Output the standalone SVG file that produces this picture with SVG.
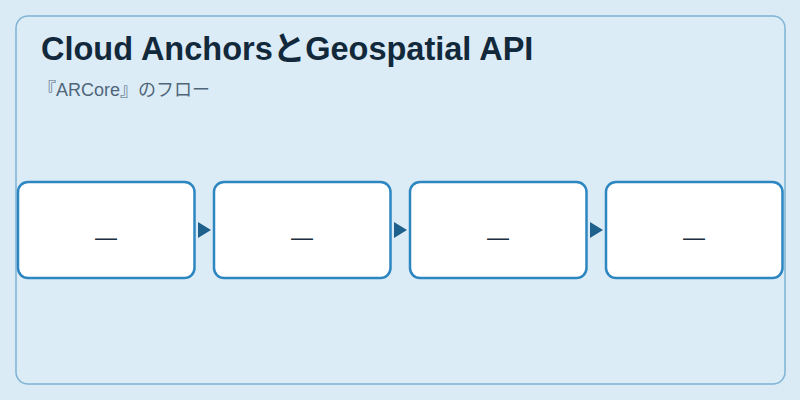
<svg xmlns="http://www.w3.org/2000/svg" width="800" height="400" viewBox="0 0 800 400">
  <style>
    .node rect { fill: #ffffff; stroke: #2e86c1; stroke-width: 2.5; }
    .node text { font-family: "Liberation Sans", "Noto Sans CJK JP", sans-serif; font-size: 22px; fill: #1b2f3e; text-anchor: middle; }
    .title { font-family: "Liberation Sans", "Noto Sans CJK JP", sans-serif; font-size: 32.5px; font-weight: bold; fill: #12293b; }
    .sub { font-family: "Liberation Sans", "Noto Sans CJK JP", sans-serif; font-size: 18px; fill: #4f667a; }
  </style>
  <defs>
    <marker id="arrow" markerUnits="userSpaceOnUse" markerWidth="13" markerHeight="16" refX="13" refY="8" orient="auto">
      <path d="M0,0 L13,8 L0,16 Z" fill="#1f618d"/>
    </marker>
  </defs>
  <rect x="0" y="0" width="800" height="400" fill="#dbebf6"/>
  <rect x="16" y="16" width="769" height="368" rx="12" fill="#dcecf7" stroke="#7fb3d5" stroke-width="1.5"/>
  <text class="title" x="41" y="60">Cloud AnchorsとGeospatial API</text>
  <text class="sub" x="38" y="96">『ARCore』のフロー</text>
  <g id="connectors">
    <path d="M198,230 L211,230" fill="none" stroke="none" marker-end="url(#arrow)"/>
    <path d="M394,230 L407,230" fill="none" stroke="none" marker-end="url(#arrow)"/>
    <path d="M590,230 L603,230" fill="none" stroke="none" marker-end="url(#arrow)"/>
  </g>
  <g id="node1" class="node"><rect x="18" y="182" width="176.5" height="96" rx="10"/><text x="106" y="245">—</text></g>
  <g id="node2" class="node"><rect x="214" y="182" width="176.5" height="96" rx="10"/><text x="302" y="245">—</text></g>
  <g id="node3" class="node"><rect x="410" y="182" width="176.5" height="96" rx="10"/><text x="498" y="245">—</text></g>
  <g id="node4" class="node"><rect x="606" y="182" width="176.5" height="96" rx="10"/><text x="694" y="245">—</text></g>
</svg>
